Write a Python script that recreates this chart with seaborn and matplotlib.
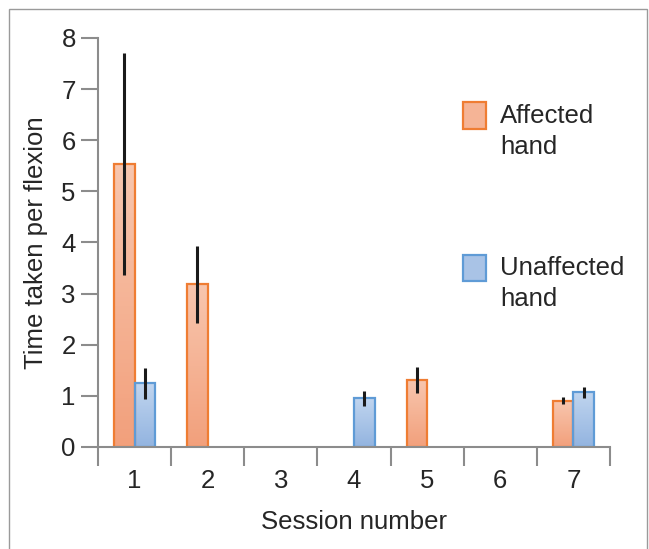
import numpy as np
import pandas as pd
import seaborn as sns
import matplotlib.pyplot as plt
from matplotlib.patches import Rectangle
from matplotlib.legend_handler import HandlerPatch
from matplotlib.colors import LinearSegmentedColormap

# Data
sessions = ['1', '2', '3', '4', '5', '6', '7']
affected = [5.53, 3.18, np.nan, np.nan, 1.31, np.nan, 0.90]
affected_err = [2.17, 0.75, np.nan, np.nan, 0.25, np.nan, 0.07]
unaffected = [1.24, np.nan, np.nan, 0.95, np.nan, np.nan, 1.07]
unaffected_err = [0.31, np.nan, np.nan, 0.15, np.nan, np.nan, 0.11]
hand_labels = ['Affected\nhand', 'Unaffected\nhand']

sns.set_style('white')
plt.rcParams['font.family'] = ['Liberation Sans', 'DejaVu Sans']

df = pd.DataFrame({
    'session': sessions * 2,
    'time': affected + unaffected,
    'err': affected_err + unaffected_err,
    'hand': [hand_labels[0]] * 7 + [hand_labels[1]] * 7,
}).dropna()

face = {hand_labels[0]: '#F5B496', hand_labels[1]: '#A9C3E6'}
edge = {hand_labels[0]: '#EF7D33', hand_labels[1]: '#5F9BD6'}
# gradient (top, bottom) of the bar fills
grad = {hand_labels[0]: ('#F8C6AE', '#F2A07C'),
        hand_labels[1]: ('#C0D5EF', '#93B4E0')}

fig = plt.figure(figsize=(6.49, 5.49), dpi=100)
ax = fig.add_axes([0.151, 0.186, 0.789, 0.745])

sns.barplot(data=df, x='session', y='time', hue='hand', order=sessions,
            hue_order=hand_labels, palette=face, saturation=1, width=0.56,
            errorbar=None, ax=ax, zorder=2)

# gradient fills, edge colours and error bars
for cont, hand in zip(ax.containers, hand_labels):
    sub = df[df['hand'] == hand]
    cmap = LinearSegmentedColormap.from_list(hand, [grad[hand][1], grad[hand][0]])
    for bar, err in zip(cont, sub['err']):
        x0, w, h = bar.get_x(), bar.get_width(), bar.get_height()
        img = ax.imshow(np.linspace(0, 1, 64).reshape(-1, 1), cmap=cmap,
                        origin='lower', aspect='auto', extent=[x0, x0 + w, 0, h],
                        zorder=2)
        img.set_clip_path(bar)
        bar.set_facecolor('none')
        bar.set_edgecolor(edge[hand])
        bar.set_linewidth(1.6)
        bar.set_zorder(2.5)
        ax.errorbar(x0 + w / 2, h, yerr=err, fmt='none',
                    ecolor='#1a1a1a', elinewidth=2.2, capsize=0, zorder=3)

ax.set_ylim(0, 8)
ax.set_xlim(-0.5, 6.5)
ax.set_yticks(range(0, 9))
ax.set_xticks(np.arange(-0.5, 7, 1), minor=False)
ax.set_xticklabels([])
ax.set_xticks(range(7), minor=True)
ax.set_xticklabels(sessions, minor=True)

gray = '#8c8c8c'
for s in ['top', 'right']:
    ax.spines[s].set_visible(False)
for s in ['left', 'bottom']:
    ax.spines[s].set_color(gray)
    ax.spines[s].set_linewidth(1.5)

ax.tick_params(axis='y', which='major', length=12, width=1.5, color=gray,
               labelsize=18.5, pad=4, left=True)
ax.tick_params(axis='x', which='major', length=14, width=1.5, color=gray,
               bottom=True)
ax.tick_params(axis='x', which='minor', length=0, labelsize=18.5, pad=16)

ax.set_xlabel('Session number', fontsize=18.5, labelpad=12)
ax.set_ylabel('Time taken per flexion', fontsize=18.5, labelpad=10)


def top_aligned_patch(legend, orig_handle, xdescent, ydescent, width, height, fontsize):
    return Rectangle((-xdescent, -ydescent + 0.65 * fontsize), width, height)


handles, labels = ax.get_legend_handles_labels()
for h, lab in zip(handles, labels):
    h.set_facecolor(face[lab])
    h.set_edgecolor(edge[lab])
    h.set_linewidth(1.6)
leg = ax.legend(handles, labels, loc='upper left', bbox_to_anchor=(0.668, 0.895),
                frameon=False, fontsize=18.5, labelspacing=3.8,
                handlelength=0.9, handleheight=1.2, handletextpad=0.55,
                handler_map={h: HandlerPatch(patch_func=top_aligned_patch) for h in handles})
for t in leg.get_texts():
    t.set_linespacing(1.35)

# thin frame around the figure
fig.patches.append(Rectangle((9 / 649, -0.1), (647 - 9) / 649, 1.1 - 9 / 549,
                             transform=fig.transFigure, fill=False,
                             edgecolor='#9a9a9a', linewidth=1))

fig.savefig('out.png', dpi=100)
